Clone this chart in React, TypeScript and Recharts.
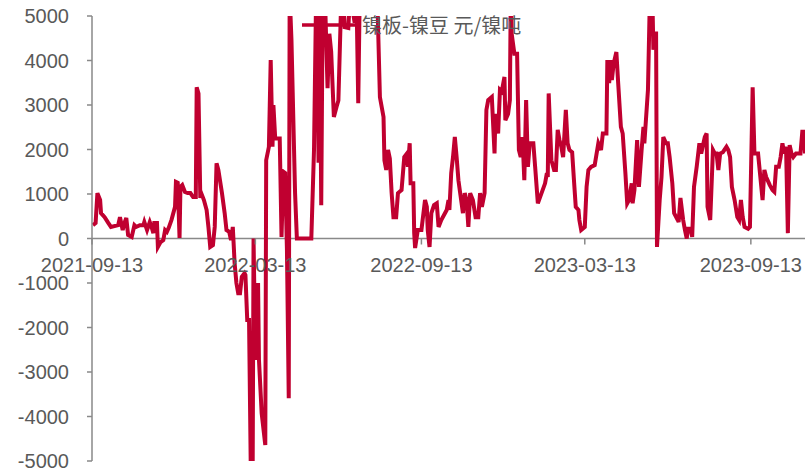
import React from 'react';
import { LineChart, Line, XAxis, YAxis, ReferenceLine } from 'recharts';

const seriesName = '镍板-镍豆 元/镍吨';
const startDate = '2021-09-13';
const tickLabels = ['2021-09-13', '2022-03-13', '2022-09-13', '2023-03-13', '2023-09-13'];
const yTicks = [-5000, -4000, -3000, -2000, -1000, 0, 1000, 2000, 3000, 4000, 5000];

// days since startDate
const dayOffsets = [
  1, 4, 6, 9, 10, 14, 18, 21, 29, 31, 34, 36, 38, 40, 44, 47, 49, 53, 57, 58,
  61, 64, 66, 68, 69, 72, 73, 76, 79, 81, 83, 85, 88, 92, 93, 95, 97, 98, 100, 103,
  106, 109, 112, 115, 116, 118, 120, 121, 124, 127, 129, 131, 134, 136, 138, 140, 144, 147, 149, 152,
  154, 156, 158, 160, 162, 164, 166, 169, 170, 172, 174, 176, 178, 179, 181, 184, 185, 188, 192, 193,
  196, 198, 200, 201, 203, 208, 210, 212, 214, 216, 218, 219, 221, 225, 227, 243, 246, 249, 251, 252,
  254, 256, 258, 261, 263, 265, 268, 271, 273, 277, 280, 284, 286, 291, 293, 295, 297, 302, 310, 316,
  319, 323, 324, 326, 328, 330, 332, 334, 337, 339, 343, 346, 349, 350, 352, 353, 356, 357, 358, 361,
  365, 369, 371, 372, 374, 376, 379, 382, 384, 387, 393, 395, 396, 398, 400, 402, 404, 406, 409, 411,
  413, 415, 417, 419, 422, 425, 428, 430, 432, 435, 437, 439, 443, 446, 447, 450, 452, 454, 457, 458,
  461, 463, 464, 465, 468, 471, 473, 475, 477, 479, 481, 483, 485, 489, 491, 494, 502, 504, 505, 506,
  509, 512, 514, 516, 518, 520, 522, 525, 527, 529, 532, 534, 536, 539, 540, 542, 546, 548, 550, 553,
  557, 561, 564, 566, 570, 571, 573, 575, 576, 578, 581, 583, 586, 588, 591, 593, 595, 598, 599, 601,
  604, 606, 609, 611, 612, 616, 618, 621, 622, 625, 626, 629, 631, 633, 636, 638, 640, 643, 645, 649,
  650, 652, 655, 657, 659, 660, 663, 665, 667, 670, 673, 675, 679, 681, 682, 685, 688, 690, 692, 694,
  696, 699, 703, 705, 707, 709, 712, 715, 717, 719, 721, 723, 727, 729, 732, 734, 738, 743, 745, 747,
  751, 754, 756, 758, 761, 763, 765, 767, 769, 771, 773, 775, 777, 780, 782, 785, 787, 789, 790,
];

const spread = [
  300, 350, 1020, 865, 570, 480, 350, 260, 300, 480, 190, 350, 460, 80, 35, 300, 260, 300, 300, 370,
  190, 370, 260, 120, 350, 350, -190, -80, -35, 190, 150, 240, 415, 710, 1270, 1250, 10, 1160, 1200, 1045,
  1020, 1020, 935, 935, 3400, 3260, 910, 1020, 865, 640, 260, -190, -150, 260, 1690, 1540, 1020, 570, 190, 150,
  -35, 260, -550, -1000, -1230, -1230, -860, -780, -820, -1830, -1830, -5300, -5300, 0, -2730, -1000, -2730, -3930, -4640, 1760,
  2060, 4010, 2060, 3000, 2250, 2250, 35, 1500, 1470, -260, -3590, 5500, 4460, 1020, 0, 0, 2000, 6500, 1700, 6000,
  750, 6500, 5500, 3380, 4600, 4200, 2730, 2960, 3100, 6000, 4750, 4730, 5500, 4850, 5500, 3040, 6000, 7000, 6500, 5500,
  3180, 2730, 1760, 1540, 1990, 1800, 1020, 480, 480, 1020, 1090, 1830, 1910, 1610, 2140, 1240, 1240, 120, -215, 190,
  190, 865, 710, 190, -190, 570, 750, 790, 260, 415, 640, 865, 640, 1470, 1830, 2280, 1830, 1310, 865, 570,
  1020, 860, 260, 1020, 865, 480, 480, 1020, 710, 1020, 2890, 3110, 3180, 1910, 2800, 2360, 3340, 3300, 3630, 2660,
  2800, 3110, 5500, 4600, 4150, 4150, 1990, 1830, 2280, 1310, 3110, 1610, 2140, 2140, 1610, 790, 1240, 1470, 1380, 3260,
  1760, 1540, 1540, 2440, 2210, 2060, 1830, 2890, 2140, 1990, 1940, 1310, 710, 640, 415, 190, 260, 1160, 1540, 1610,
  1650, 2140, 1990, 2360, 2360, 4010, 3490, 4010, 3560, 3930, 4190, 3490, 2510, 2360, 1470, 790, 865, 1240, 790, 1090,
  2210, 1160, 2000, 2510, 2140, 3340, 5300, 5300, 4240, 4650, -190, 865, 1380, 2280, 2140, 2140, 1830, 1240, 570, 415,
  370, 910, 415, 190, 0, 220, 220, 35, 1160, 1610, 2140, 1910, 2280, 2360, 710, 415, 1990, 1910, 1910, 1540,
  1910, 1940, 2060, 1990, 1830, 1160, 865, 480, 415, 865, 480, 260, 220, 260, 3400, 1910, 1910, 865, 1540, 1380,
  1200, 1090, 1050, 1610, 1610, 1830, 2140, 1910, 2060, 120, 2100, 1910, 1830, 1910, 1910, 1910, 2400, 2400, 1910,
];

const DAY_MS = 86400000;
const startMs = Date.parse(startDate + 'T00:00:00Z');
const tickDays = tickLabels.map((t) => Math.round((Date.parse(t + 'T00:00:00Z') - startMs) / DAY_MS));
const data = dayOffsets.map((d, i) => ({ day: d, value: spread[i] }));

const W = 799;
const H = 462;
const XAXIS_H = 1;
const M = { top: 8, right: 2, bottom: 8, left: 0 };
const PLOT_H = H - M.top - M.bottom - XAXIS_H;
const ZERO_Y = M.top + PLOT_H / 2;

const AXIS = '#898989';
const TEXT = '#595959';
const RED = '#C00030';
const FONT = '"Liberation Sans", Arial, sans-serif';

const XTick = (props: any) => {
  const { x, payload } = props;
  const idx = tickDays.indexOf(payload.value);
  return (
    <g>
      <line x1={x} x2={x} y1={ZERO_Y} y2={ZERO_Y + 6} stroke={AXIS} strokeWidth={1.5} />
      <text x={x} y={ZERO_Y + 33} textAnchor="middle" fontSize={20} fontFamily={FONT} fill={TEXT}>
        {tickLabels[idx]}
      </text>
    </g>
  );
};

export default function App() {
  return (
    <div style={{ position: 'fixed', left: 8, top: 8, width: W, height: H, background: '#fff' }}>
      <LineChart width={W} height={H} data={data} margin={M} style={{ overflow: 'visible' }}>
        <XAxis
          dataKey="day"
          type="number"
          domain={[0, 790]}
          allowDataOverflow
          ticks={tickDays}
          interval={0}
          height={XAXIS_H}
          axisLine={false}
          tickLine={false}
          tick={<XTick />}
        />
        <YAxis
          type="number"
          domain={[-5000, 5000]}
          allowDataOverflow
          ticks={yTicks}
          interval={0}
          width={84}
          axisLine={{ stroke: AXIS, strokeWidth: 1.5 }}
          tickLine={{ stroke: AXIS, strokeWidth: 1.5 }}
          tickSize={5}
          tickMargin={18}
          tick={{ fontSize: 20, fontFamily: FONT, fill: TEXT }}
        />
        <ReferenceLine y={0} stroke={AXIS} strokeWidth={1.5} />
        <Line
          type="linear"
          dataKey="value"
          name={seriesName}
          stroke={RED}
          strokeWidth={4}
          dot={false}
          isAnimationActive={false}
        />
      </LineChart>
      <div
        style={{
          position: 'absolute',
          left: 294,
          top: 5,
          display: 'flex',
          alignItems: 'center',
          height: 24,
        }}
      >
        <svg width={58} height={24} style={{ display: 'block' }}>
          <line x1={0} x2={58} y1={12} y2={12} stroke={RED} strokeWidth={3.5} />
        </svg>
        <span
          style={{
            fontFamily: '"Noto Sans CJK SC", sans-serif',
            fontSize: 20,
            color: TEXT,
            marginLeft: 2,
            lineHeight: '24px',
            whiteSpace: 'nowrap',
          }}
        >
          {seriesName}
        </span>
      </div>
    </div>
  );
}
